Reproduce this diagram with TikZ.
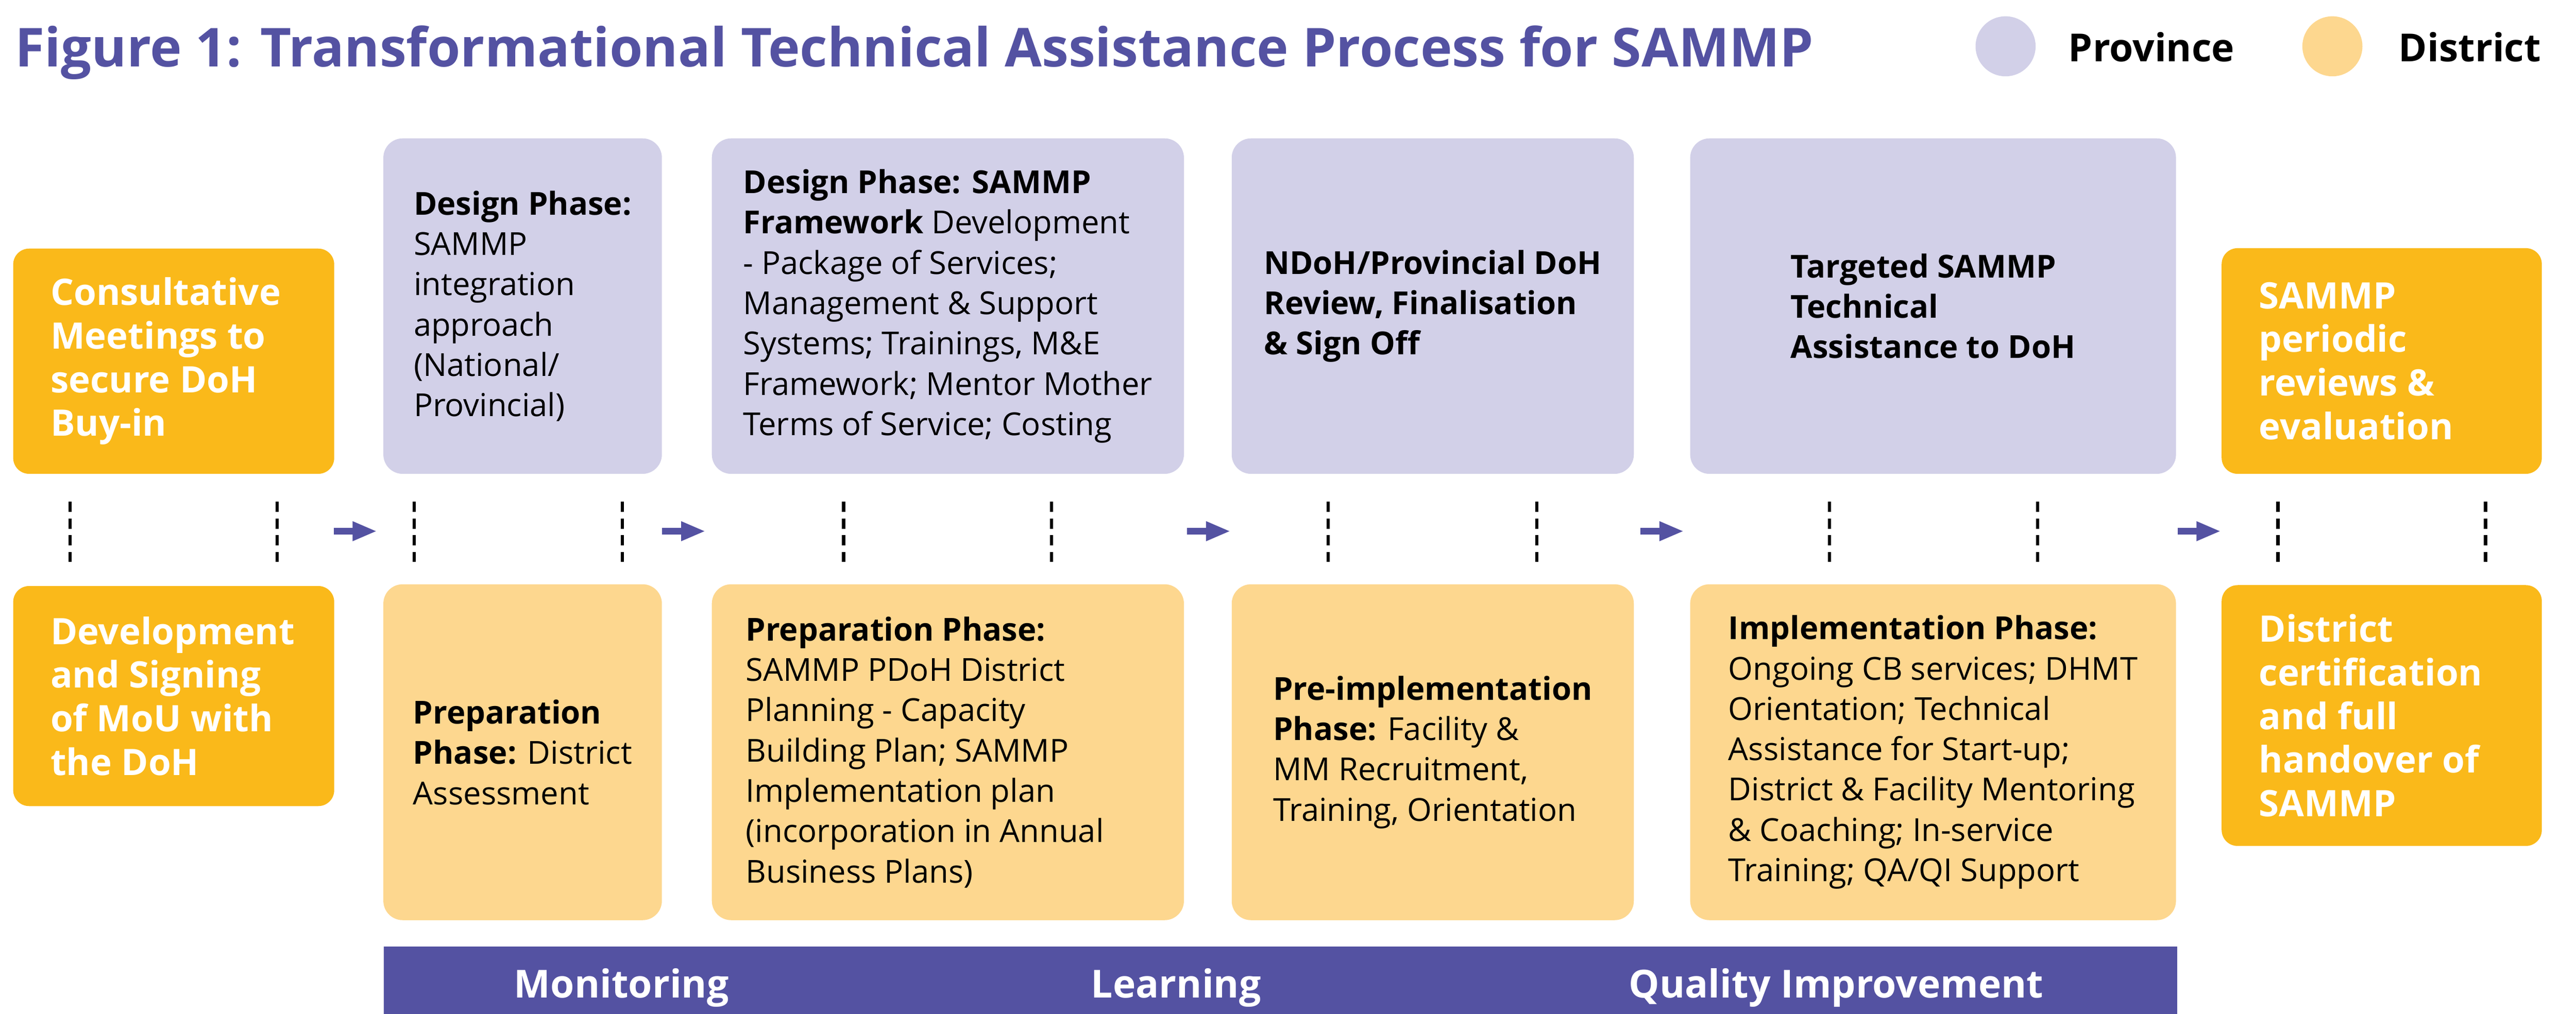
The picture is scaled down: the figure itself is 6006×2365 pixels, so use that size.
\documentclass[tikz,border=0pt]{standalone}
\usepackage{fontspec}
\setmainfont{Open Sans}
\usetikzlibrary{arrows.meta}
\definecolor{tpurple}{RGB}{84,82,162}
\definecolor{lpurple}{RGB}{210,208,232}
\definecolor{lorange}{RGB}{253,215,143}
\definecolor{dorange}{RGB}{250,185,26}
\newcommand\bodyfnt{\fontsize{21}{26.75}\selectfont}
\newcommand\whitefnt{\fontsize{24.2}{28.9}\selectfont\bfseries\hyphenpenalty=10000\exhyphenpenalty=10000}
\newcommand\titlefnt{\fontsize{35.6}{42}\selectfont\bfseries}
\newcommand\legfnt{\fontsize{25.6}{30}\selectfont\bfseries}
\begin{document}
\begin{tikzpicture}[x=0.01cm,y=-0.01cm,
  pbox/.style={fill=lpurple, rounded corners=0.45cm, align=left, inner sep=0pt, font=\bodyfnt},
  dbox/.style={fill=lorange, rounded corners=0.45cm, align=left, inner sep=0pt, font=\bodyfnt},
  obox/.style={fill=dorange, rounded corners=0.37cm, text=white, align=flush left, inner ysep=0pt, inner xsep=0.87cm, font=\whitefnt},
  dashline/.style={line width=0.075cm, dash pattern=on 0.24cm off 0.15cm},
  flowarrow/.style={draw=tpurple, line width=0.16cm, -{Triangle[length=0.57cm,width=0.42cm]}},
  bartext/.style={anchor=base, text=white, font=\legfnt, inner sep=0pt},
  legtext/.style={anchor=base west, font=\legfnt, inner sep=0pt},
  legdot/.style={circle, minimum size=1.40cm, inner sep=0pt}]
\useasboundingbox (0,0) rectangle (6006,2365);

% title and legend
\node[anchor=base west, font=\titlefnt, text=tpurple, inner sep=0pt] (title) at (35,155)
  {Figure 1: Transformational Technical Assistance Process for SAMMP};
\node[legdot, fill=lpurple] (legp) at (4676,108) {};
\node[legtext] (legpt) at (4822,144) {Province};
\node[legdot, fill=lorange] (legd) at (5438,108) {};
\node[legtext] (legdt) at (5592,144) {District};

% column 1
\node[obox, text width=5.74cm, minimum height=5.25cm] (o1) at (405,842.5)
  {Consultative\\Meetings to\\secure DoH\\Buy-in};
\node[obox, text width=5.74cm, minimum height=5.13cm] (o2) at (405,1623.5)
  {Development\\and Signing\\of MoU with\\the DoH};

% column 2
\node[pbox, minimum width=6.49cm, minimum height=7.82cm] (p2) at (1218.5,714)
  {\textbf{Design Phase:}\\SAMMP\\integration\\approach\\(National/\\Provincial)};
\node[dbox, minimum width=6.49cm, minimum height=7.83cm] (d2) at (1218.5,1754.5)
  {\textbf{Preparation}\\\textbf{Phase:} District\\Assessment};

% column 3
\node[pbox, minimum width=11.00cm, minimum height=7.82cm] (p3) at (2210,714)
  {\textbf{Design Phase: SAMMP}\\\textbf{Framework} Development\\- Package of Services;\\Management \& Support\\Systems; Trainings, M\&E\\Framework; Mentor Mother\\Terms of Service; Costing};
\node[dbox, align=flush left, text width=9.42cm, inner xsep=0.79cm, minimum height=7.83cm] (d3) at (2210,1754.5)
  {\textbf{Preparation Phase:}\\SAMMP PDoH District\\Planning - Capacity\\Building Plan; SAMMP\\Implementation plan\\(incorporation in Annual\\Business Plans)};

% column 4
\node[pbox, minimum width=9.37cm, minimum height=7.82cm] (p4) at (3340.5,714)
  {\textbf{NDoH/Provincial DoH}\\\textbf{Review, Finalisation}\\\textbf{\& Sign Off}};
\node[dbox, minimum width=9.37cm, minimum height=7.83cm] (d4) at (3340.5,1754.5)
  {\textbf{Pre-implementation}\\\textbf{Phase:} Facility \&\\MM Recruitment,\\Training, Orientation};

% column 5
\node[pbox, minimum width=11.32cm, minimum height=7.82cm] (p5) at (4507,714)
  {\textbf{Targeted SAMMP}\\\textbf{Technical}\\\textbf{Assistance to DoH}};
\node[dbox, minimum width=11.32cm, minimum height=7.83cm] (d5) at (4507,1754.5)
  {\textbf{Implementation Phase:}\\Ongoing CB services; DHMT\\Orientation; Technical\\Assistance for Start-up;\\District \& Facility Mentoring\\\& Coaching; In-service\\Training; QA/QI Support};

% column 6
\node[obox, text width=5.72cm, minimum height=5.26cm] (o3) at (5553,842)
  {SAMMP\\periodic\\reviews \&\\evaluation};
\node[obox, text width=5.72cm, minimum height=6.08cm] (o4) at (5553,1669)
  {District\\certification\\and full\\handover of\\SAMMP};

% dashed separators
\foreach \x [count=\i] in {163,646,966,1451,1967,2452,3097,3583,4265,4751,5311,5795} {
  \coordinate (dt\i) at (\x,1170);
  \coordinate (db\i) at (\x,1311);
  \draw[dashline] (dt\i) -- (db\i);
}

% arrows
\foreach \s/\e [count=\i] in {778/879,1544/1645,2768/2869,3825/3926,5077/5178} {
  \coordinate (as\i) at (\s,1239);
  \coordinate (ae\i) at (\e,1239);
  \draw[flowarrow] (as\i) -- (ae\i);
}

% bottom bar
\node[fill=tpurple, anchor=north west, minimum width=41.79cm, minimum height=1.58cm, inner sep=0pt] (bar) at (894,2207) {};
\node[bartext] (bm) at (1449,2327) {Monitoring};
\node[bartext] (bl) at (2742,2327) {Learning};
\node[bartext] (bq) at (4281,2327) {Quality Improvement};
\end{tikzpicture}
\end{document}
